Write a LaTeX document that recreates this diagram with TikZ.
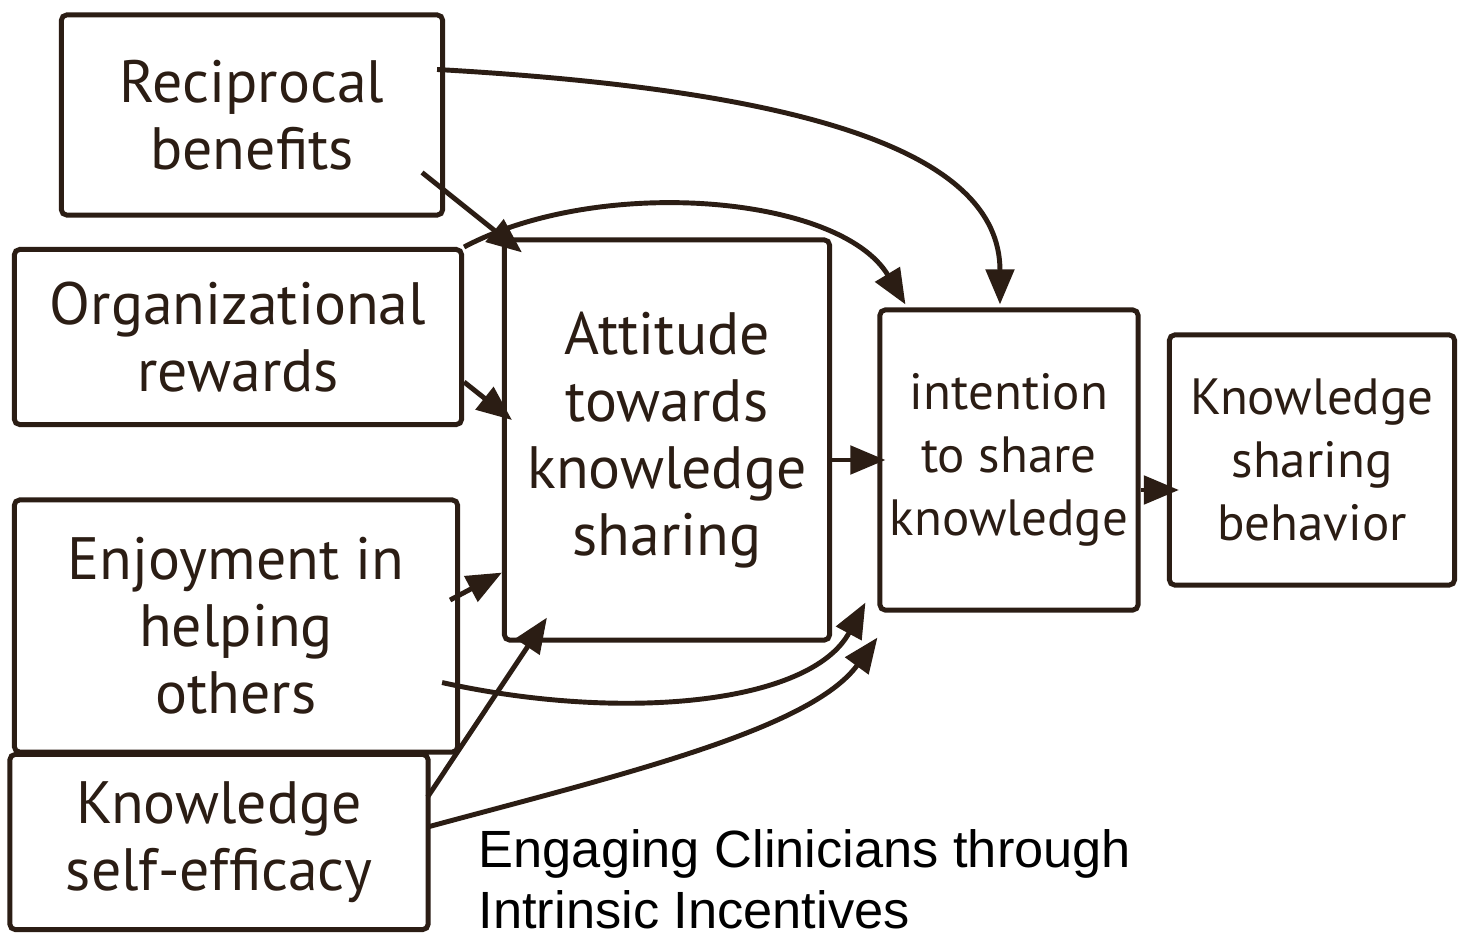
\documentclass[tikz,border=0pt]{standalone}
\usepackage{fontspec}
\setmainfont{PT Sans}
\newfontfamily\capfont{Liberation Sans}
\usetikzlibrary{arrows.meta,calc}
\definecolor{ink}{HTML}{2B1D14}
\tikzset{
  box/.style={draw=ink, line width=1.4pt, rectangle, rounded corners=1.5pt, align=center,
              text=ink, font=\fontsize{17}{19}\selectfont, inner sep=2pt},
  smallbox/.style={box, font=\fontsize{14.5}{18}\selectfont},
  conn/.style={draw=ink, line width=1.4pt, -{Triangle[length=10pt,width=8pt]}},
}
\begin{document}
\begin{tikzpicture}[x=0.01cm,y=-0.01cm]
\useasboundingbox (0,0) rectangle (1459,936);
\fill[white] (0,0) rectangle (1459,936);

\node[box, minimum width=3.81cm, minimum height=2.00cm] (rb) at (252,115) {Reciprocal\\benefits};
\node[box, minimum width=4.47cm, minimum height=1.75cm] (or) at (238,337) {Organizational\\rewards};
\node[box, minimum width=4.43cm, minimum height=2.52cm] (eh) at (236,626) {Enjoyment in\\helping\\others};
\node[box, minimum width=4.18cm, minimum height=1.75cm] (ks) at (219,842) {Knowledge\\self-efficacy};
\node[box, minimum width=3.25cm, minimum height=4.00cm] (att) at (667,440) {Attitude\\towards\\knowledge\\sharing};
\node[smallbox, minimum width=2.58cm, minimum height=3.00cm] (int) at (1009,460) {intention\\to share\\knowledge};
\node[smallbox, minimum width=2.85cm, minimum height=2.50cm] (beh) at (1312,460) {Knowledge\\sharing\\behavior};

\node[anchor=north west, align=left, inner sep=0pt, text=black,
      font=\capfont\fontsize{14.9}{17.4}\selectfont] (cap) at (478,829)
      {Engaging Clinicians through\\Intrinsic Incentives};

% straight connectors
\draw[conn] ($(rb.south east)+(-23,-45)$) -- ($(att.north west)+(20,15)$);
\draw[conn] ($(or.south east)+(0,-45)$) -- ($(att.west)+(10,-20)$);
\draw[conn] ($(eh.east)+(-10,-26)$) -- ($(att.south west)+(0,-70)$);
\draw[conn] ($(ks.north east)+(-3,45)$) -- ($(att.south west)+(45,-25)$);
\draw[conn] ($(att.east)+(0,20)$) -- ($(int.west)+(8,0)$);
\draw[conn] ($(int.east)+(0,30)$) -- ($(beh.west)+(12,30)$);

% curved connectors
\draw[conn] ($(rb.north east)+(-8,57)$) .. controls (800,90) and (1000,150) .. ($(int.north)+(-9,-3)$);
\draw[conn] ($(or.north east)+(0,0)$) .. controls (600,175) and (840,195) .. ($(int.north west)+(28,-3)$);
\draw[conn] ($(eh.south east)+(-18,-72)$) .. controls (620,722) and (810,705) .. ($(int.south west)+(-12,-10)$);
\draw[conn] ($(ks.north east)+(-3,75)$) .. controls (620,775) and (810,730) .. ($(int.south west)+(0,25)$);
\end{tikzpicture}
\end{document}
